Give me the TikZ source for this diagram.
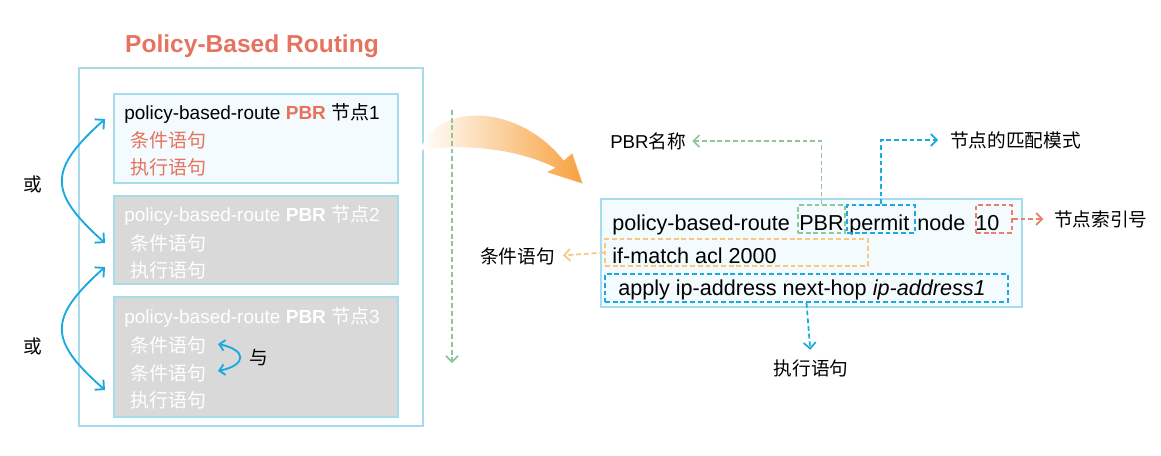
\documentclass[tikz,border=0pt]{standalone}
\usepackage{fontspec}
\setmainfont{Liberation Sans}
\newfontfamily\cjk{Noto Sans CJK SC}
\newcommand{\zh}[1]{{\cjk #1}}
\usepackage{xcolor}
\usetikzlibrary{arrows.meta,fit}
\definecolor{pbrred}{HTML}{E5735F}
\definecolor{pbrblue}{HTML}{1AA9E1}
\definecolor{pbrgreen}{HTML}{8DC79B}
\definecolor{pbrorange}{HTML}{F8C87E}
\definecolor{idxred}{HTML}{E8806C}
\definecolor{framecol}{HTML}{A6DCEC}
\definecolor{boxfill}{HTML}{F3FBFE}
\definecolor{boxgray}{HTML}{D9D9D9}
\definecolor{arroworange}{HTML}{F7A23E}

\begin{document}
\begin{tikzpicture}[x=0.75pt,y=-0.75pt,
  every node/.style={inner sep=0pt},
  frame/.style={draw=framecol, line width=0.8pt},
  lbl/.style={font=\fontsize{14}{16}\selectfont},
  item/.style={font=\fontsize{14.25}{16}\selectfont, anchor=base west},
  cmd/.style={font=\fontsize{16.2}{19}\selectfont, anchor=base west},
  dashbox/.style={line width=1.3pt, dash pattern=on 3.6pt off 2.2pt},
  orarrow/.style={draw=pbrblue, line width=1.4pt,
    {Straight Barb[length=5pt,width=10pt]}-{Straight Barb[length=5pt,width=10pt]}},
  dasharrow/.style={line width=1.3pt, dash pattern=on 3.6pt off 2.2pt,
    -{Straight Barb[length=4.5pt,width=9pt]}}
]
\useasboundingbox (0,0) rectangle (1161,455);

% left side: the policy and its nodes
\node [font=\bfseries\fontsize{18.4}{22}\selectfont, text=pbrred, anchor=base] (title) at (252,52) {Policy-Based Routing};
\node [frame, fit={(79,68) (423,426)}] (policy) {};
\node [frame, fill=boxfill, fit={(114,94) (398,183)}] (node1) {};
\node [frame, fill=boxgray, fit={(114,196) (398,284)}] (node2) {};
\node [frame, fill=boxgray, fit={(114,297) (398,417)}] (node3) {};

\node [item] (n1head) at (124,119) {policy-based-route \textbf{\color{pbrred}PBR} \zh{节点}1};
\node [item, text=pbrred] (n1cond) at (130,147) {\zh{条件语句}};
\node [item, text=pbrred] (n1exec) at (130,174) {\zh{执行语句}};

\node [item, text=white] (n2head) at (124,221) {policy-based-route \textbf{PBR} \zh{节点}2};
\node [item, text=white] (n2cond) at (130,250) {\zh{条件语句}};
\node [item, text=white] (n2exec) at (130,277) {\zh{执行语句}};

\node [item, text=white] (n3head) at (124,323) {policy-based-route \textbf{PBR} \zh{节点}3};
\node [item, text=white] (n3conda) at (130,352) {\zh{条件语句}};
\node [item, text=white] (n3condb) at (130,380) {\zh{条件语句}};
\node [item, text=white] (n3exec) at (130,407) {\zh{执行语句}};

% or / and relations
\coordinate (or1a) at (105,119);
\coordinate (or1b) at (105,243);
\coordinate (or2a) at (105,267);
\coordinate (or2b) at (105,390);
\coordinate (and1) at (218,344);
\coordinate (and2) at (218,371);
\node [lbl, anchor=center] (or1) at (33,184) {\zh{或}};
\node [lbl, anchor=center] (or2) at (33,346) {\zh{或}};
\node [lbl, anchor=center] (and) at (259,358) {\zh{与}};
\draw [orarrow] (or1a) .. controls (48,170) and (48,192) .. (or1b);
\draw [orarrow] (or2a) .. controls (48,318) and (48,340) .. (or2b);
\draw [orarrow, {Straight Barb[length=4pt,width=8pt]}-{Straight Barb[length=4pt,width=8pt]}] (and1) .. controls (247,350) and (247,365) .. (and2);

% big arrow to the detail
\shade [left color=white, middle color=arroworange!35, right color=arroworange]
  (420,150) .. controls (440,100) and (520,105) .. (564,161) -- (572,154) -- (582,183)
  -- (548,172) -- (556,168) .. controls (520,150) and (470,143) .. (420,150) -- cycle;
\draw [arroworange!85, line width=0.6pt, line join=round] (564,161) -- (572,154) -- (582,183) -- (548,172) -- (556,168);

% order of matching
\coordinate (ordtop) at (452,110);
\coordinate (ordend) at (452,363);
\draw [dasharrow, pbrgreen] (ordtop) -- (ordend);

% right side: one node in detail
\node [frame, fill=boxfill, fit={(601,199) (1022,307)}] (detail) {};
\node [cmd] (cmdhead) at (612,230) {policy-based-route};
\node [cmd] (cmdname) at (799,230) {PBR};
\node [cmd] (cmdmode) at (849,230) {permit};
\node [cmd] (cmdnode) at (917,230) {node};
\node [cmd] (cmdidx) at (975,230) {10};
\node [cmd] (cmdif) at (612,263) {if-match acl 2000};
\node [cmd] (cmdapply) at (618,295) {apply ip-address next-hop \textit{ip-address1}};

\node [dashbox, draw=pbrgreen, fit={(798,205) (845,233)}] (namebox) {};
\node [dashbox, draw=pbrblue, fit={(847,205) (915,233)}] (modebox) {};
\node [dashbox, draw=idxred, fit={(976,205) (1012,233)}] (idxbox) {};
\node [dashbox, draw=pbrorange, fit={(605,239) (868,266)}] (condbox) {};
\node [dashbox, draw=pbrblue, fit={(605,274) (1008,302)}] (applybox) {};

\node [lbl, anchor=west] (namelbl) at (610,141) {PBR\zh{名称}};
\node [lbl, anchor=west] (modelbl) at (950,140) {\zh{节点的匹配模式}};
\node [lbl, anchor=west] (idxlbl) at (1054,219) {\zh{节点索引号}};
\node [lbl, anchor=east] (condlbl) at (555,256) {\zh{条件语句}};
\node [lbl, anchor=center] (execlbl) at (811,368) {\zh{执行语句}};

\draw [dasharrow, pbrgreen, shorten >=4.5pt] (namebox.north) |- (namelbl.east);
\draw [dasharrow, pbrblue, shorten >=9pt] (modebox.north) |- (modelbl.west);
\draw [dasharrow, idxred, shorten >=8pt] (idxbox.east) -- (idxlbl.west);
\draw [dasharrow, pbrorange, shorten >=6pt] (condbox.west) -- (condlbl.east);
\draw [dasharrow, pbrblue, shorten >=7pt] (applybox.south) -- (execlbl.north);
\end{tikzpicture}
\end{document}
